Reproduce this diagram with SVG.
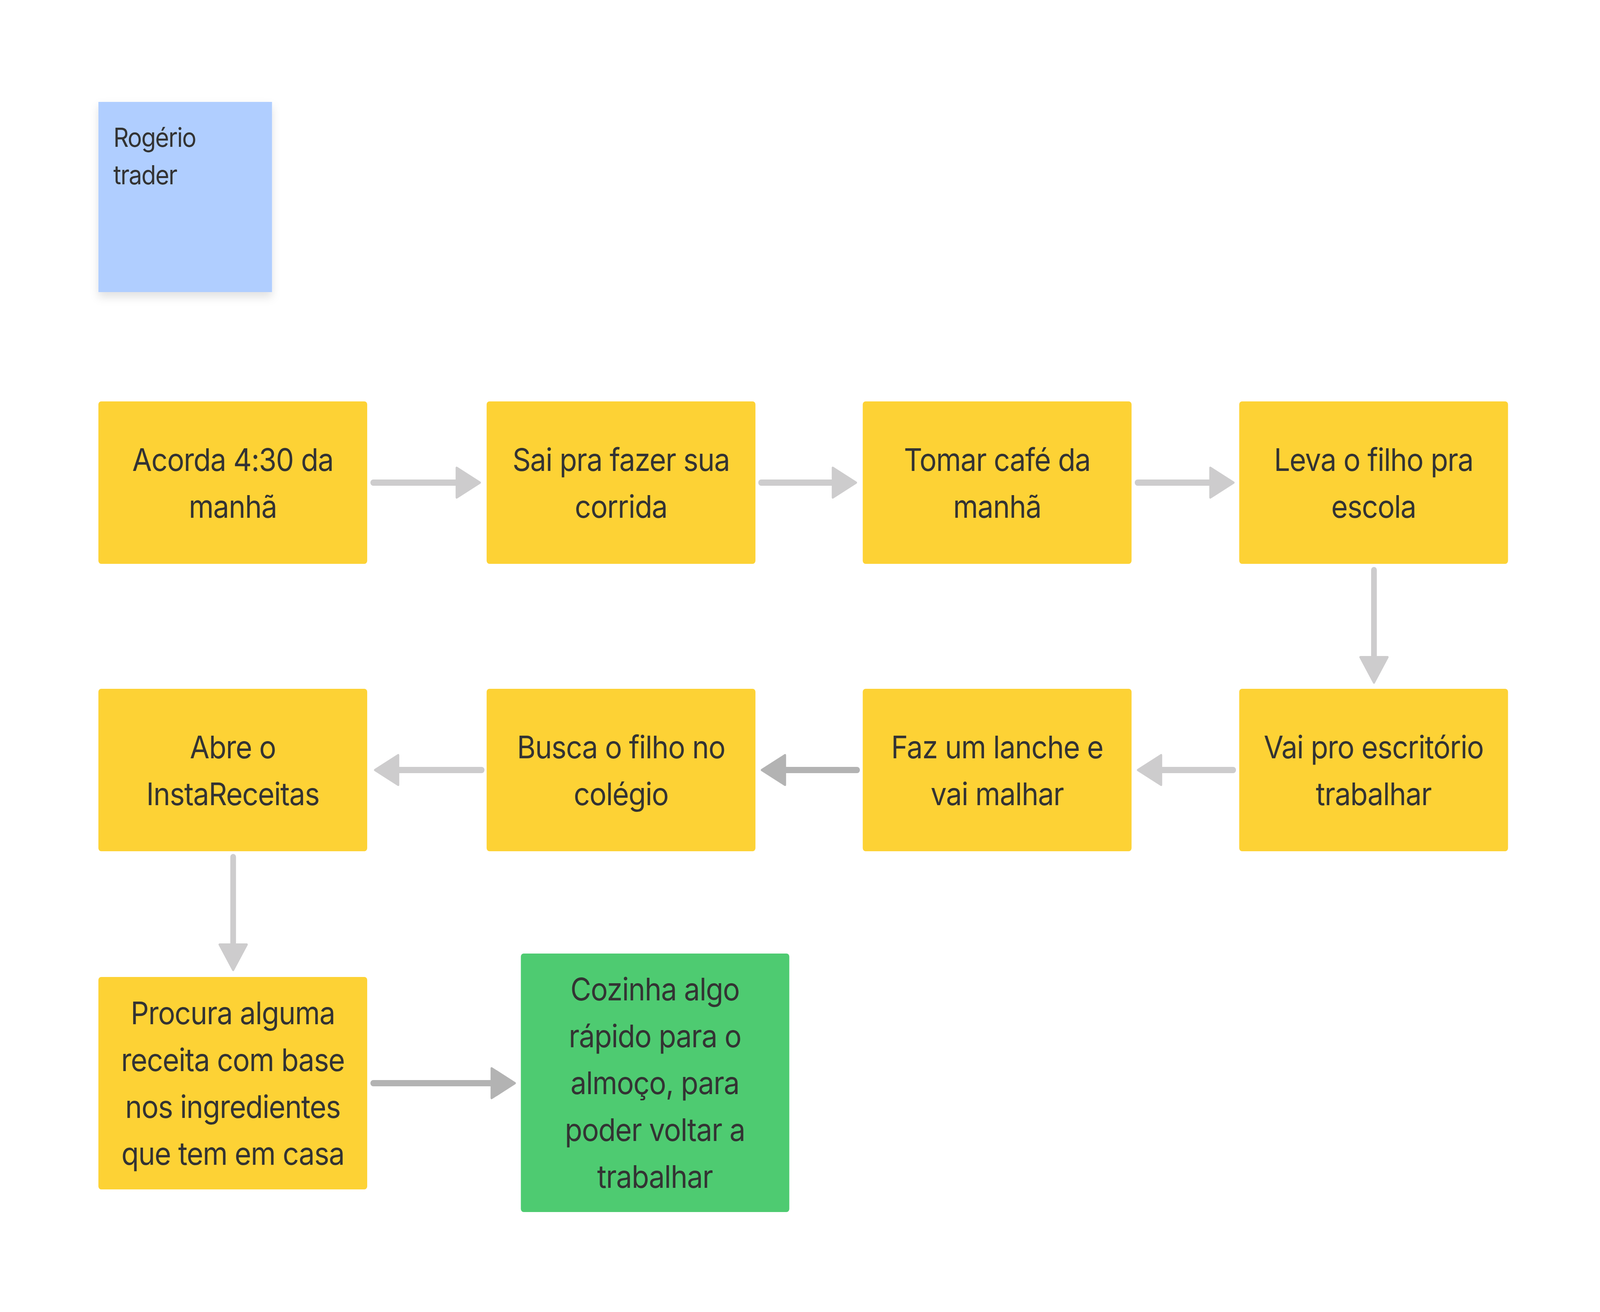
<svg xmlns="http://www.w3.org/2000/svg" width="4488" height="3360" viewBox="0 0 4488 3360">
<defs>
<filter id="shadow" x="-20%" y="-20%" width="140%" height="150%">
<feDropShadow dx="0" dy="12" stdDeviation="12" flood-color="#000" flood-opacity="0.12"/>
</filter>
<marker id="ahL" markerUnits="userSpaceOnUse" markerWidth="90" markerHeight="100" viewBox="-5 -50 90 100" refX="0" refY="0" orient="auto">
<path d="M3,-38 L68,0 L3,38 Z" fill="#CDCCCD" stroke="#CDCCCD" stroke-width="6" stroke-linejoin="round"/>
</marker>
<marker id="ahD" markerUnits="userSpaceOnUse" markerWidth="90" markerHeight="100" viewBox="-5 -50 90 100" refX="0" refY="0" orient="auto">
<path d="M3,-38 L68,0 L3,38 Z" fill="#B3B3B3" stroke="#B3B3B3" stroke-width="6" stroke-linejoin="round"/>
</marker>
</defs>
<style>
.y{fill:#FDD235}
.g{fill:#4ECB71}
.b{fill:#B0CEFF}
.t{font-family:Inter,"Noto Sans","Liberation Sans",sans-serif;font-size:80px;letter-spacing:-1.5px;fill:#333333;text-anchor:middle}
.s{font-family:Inter,"Noto Sans","Liberation Sans",sans-serif;font-size:67px;letter-spacing:-2px;fill:#333333}
.cl{fill:none;stroke:#CDCCCD;stroke-width:16;stroke-linecap:round;marker-end:url(#ahL)}
.cd{fill:none;stroke:#B3B3B3;stroke-width:16;stroke-linecap:round;marker-end:url(#ahD)}
</style>
<rect width="4488" height="3360" fill="#FFFFFF"/>
<g id="diagram" transform="scale(0.912656 1)">

<g id="persona">
<rect x="276" y="261" width="487" height="487" class="b" filter="url(#shadow)"/>
<text class="s" x="318" y="376">Rogério</text>
<text class="s" x="318" y="472">trader</text>
</g>

<g id="connectors">
<line class="cl" x1="1047" y1="1236" x2="1278" y2="1236"/>
<line class="cl" x1="2135" y1="1236" x2="2333" y2="1236"/>
<line class="cl" x1="3191" y1="1236" x2="3392" y2="1236"/>
<line class="cl" x1="3854" y1="1460" x2="3854" y2="1680"/>
<line class="cl" x1="3459" y1="1972" x2="3260" y2="1972"/>
<line class="cd" x1="2404" y1="1972" x2="2205" y2="1972"/>
<line class="cl" x1="1351" y1="1972" x2="1120" y2="1972"/>
<line class="cl" x1="654" y1="2195" x2="654" y2="2416"/>
<line class="cd" x1="1047" y1="2774" x2="1376" y2="2774"/>
</g>

<g id="n1">
<rect x="276" y="1028" width="754" height="416" rx="8" class="y"/>
<text class="t" x="653" y="1206">Acorda 4:30 da</text>
<text class="t" x="653" y="1326">manhã</text>
</g>
<g id="n2">
<rect x="1365" y="1028" width="754" height="416" rx="8" class="y"/>
<text class="t" x="1742" y="1206">Sai pra fazer sua</text>
<text class="t" x="1742" y="1326">corrida</text>
</g>
<g id="n3">
<rect x="2420" y="1028" width="754" height="416" rx="8" class="y"/>
<text class="t" x="2797" y="1206">Tomar café da</text>
<text class="t" x="2797" y="1326">manhã</text>
</g>
<g id="n4">
<rect x="3476" y="1028" width="754" height="416" rx="8" class="y"/>
<text class="t" x="3853" y="1206">Leva o filho pra</text>
<text class="t" x="3853" y="1326">escola</text>
</g>
<g id="n5">
<rect x="3476" y="1764" width="754" height="416" rx="8" class="y"/>
<text class="t" x="3853" y="1942">Vai pro escritório</text>
<text class="t" x="3853" y="2062">trabalhar</text>
</g>
<g id="n6">
<rect x="2420" y="1764" width="754" height="416" rx="8" class="y"/>
<text class="t" x="2797" y="1942">Faz um lanche e</text>
<text class="t" x="2797" y="2062">vai malhar</text>
</g>
<g id="n7">
<rect x="1365" y="1764" width="754" height="416" rx="8" class="y"/>
<text class="t" x="1742" y="1942">Busca o filho no</text>
<text class="t" x="1742" y="2062">colégio</text>
</g>
<g id="n8">
<rect x="276" y="1764" width="754" height="416" rx="8" class="y"/>
<text class="t" x="653" y="1942">Abre o</text>
<text class="t" x="653" y="2062">InstaReceitas</text>
</g>
<g id="n9">
<rect x="276" y="2502" width="754" height="544" rx="8" class="y"/>
<text class="t" x="653" y="2623">Procura alguma</text>
<text class="t" x="653" y="2743">receita com base</text>
<text class="t" x="653" y="2863">nos ingredientes</text>
<text class="t" x="653" y="2983">que tem em casa</text>
</g>
<g id="n10">
<rect x="1461" y="2442" width="753" height="662" rx="8" class="g"/>
<text class="t" x="1837" y="2562">Cozinha algo</text>
<text class="t" x="1837" y="2682">rápido para o</text>
<text class="t" x="1837" y="2802">almoço, para</text>
<text class="t" x="1837" y="2922">poder voltar a</text>
<text class="t" x="1837" y="3042">trabalhar</text>
</g>
</g>
</svg>
